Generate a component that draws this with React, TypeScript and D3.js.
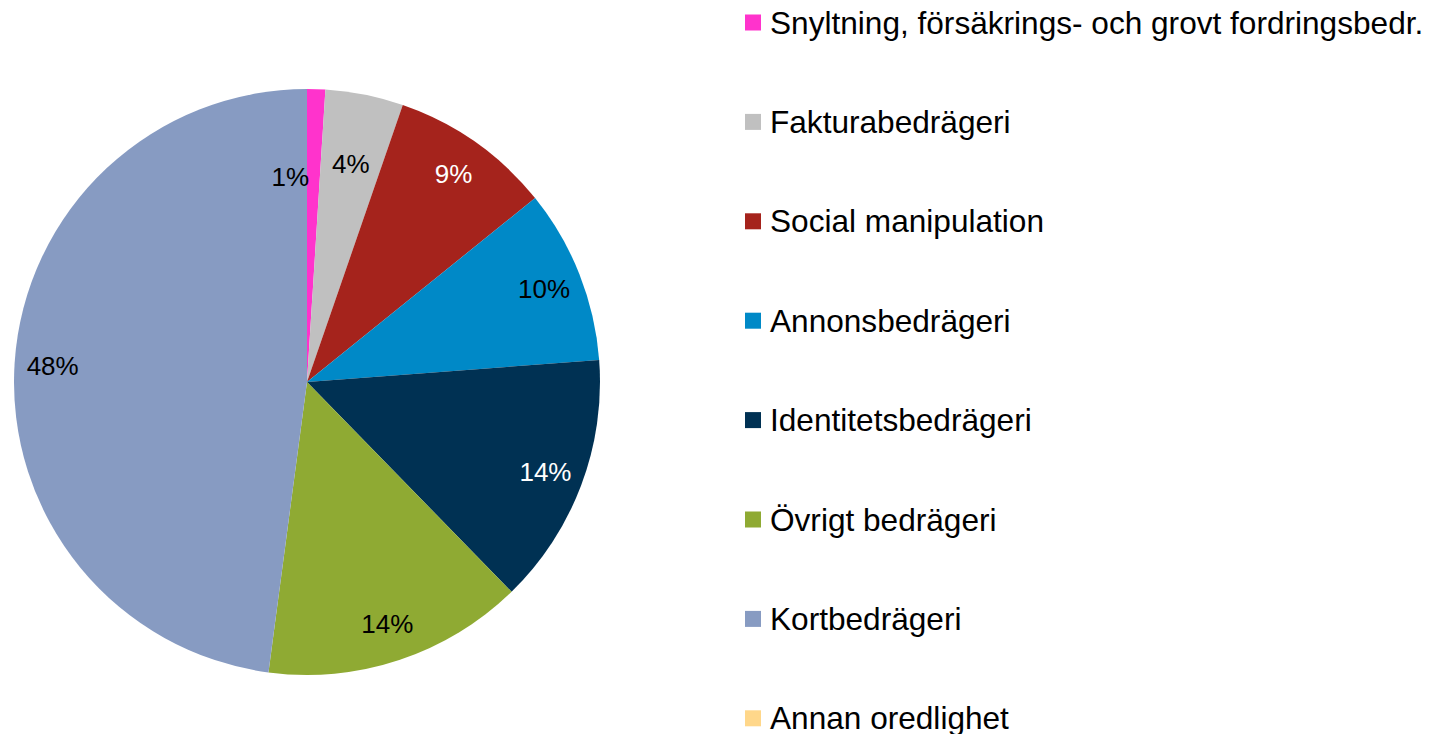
import { useMemo } from 'react';
import * as d3 from 'd3';

// Data (share in %)
const categories = [
  'Snyltning, försäkrings- och grovt fordringsbedr.',
  'Fakturabedrägeri',
  'Social manipulation',
  'Annonsbedrägeri',
  'Identitetsbedrägeri',
  'Övrigt bedrägeri',
  'Kortbedrägeri',
  'Annan oredlighet',
];
const shares = [1.0, 4.3, 8.9, 9.6, 13.9, 14.4, 47.9, 0];
const colors = ['#ff33cc', '#c0c0c0', '#a5231c', '#0089c7', '#003153', '#8faa33', '#879bc2', '#ffd78a'];
const labelColors = ['#000', '#000', '#fff', '#000', '#fff', '#000', '#000', '#000'];

type Slice = { name: string; value: number; color: string; labelColor: string };

export default function App() {
  const W = 1437;
  const H = 734;
  const cx = 307;
  const cy = 382;
  const R = 293;

  const data: Slice[] = useMemo(
    () =>
      categories.map((name, i) => ({
        name,
        value: shares[i],
        color: colors[i],
        labelColor: labelColors[i],
      })),
    []
  );

  const total = d3.sum(data, d => d.value);
  const pie = d3.pie<Slice>().value(d => d.value).sort(null);
  const arcs = pie(data);
  const arcGen = d3.arc<d3.PieArcDatum<Slice>>().innerRadius(0).outerRadius(R);

  // legend rows
  const ly = d3.scalePoint<string>().domain(categories).range([22.5, 718.3]);

  const fontFamily = 'Arial, "Liberation Sans", sans-serif';

  return (
    <svg
      width={W}
      height={H}
      viewBox={`0 0 ${W} ${H}`}
      style={{ position: 'absolute', left: 0, top: 0, background: '#fff' }}
    >
      <g transform={`translate(${cx},${cy})`}>
        {arcs
          .filter(a => a.value > 0)
          .map(a => (
            <path key={a.data.name} d={arcGen(a) ?? ''} fill={a.data.color} />
          ))}
        {arcs
          .filter(a => a.value > 0)
          .map(a => {
            const pct = (a.value / total) * 100;
            const mid = (a.startAngle + a.endAngle) / 2;
            // small slices get their labels pulled in, the tiniest one sits beside it
            const lr = pct < 2 ? R * 0.7 : pct < 6 ? R * 0.76 : R * 0.87;
            let x = Math.sin(mid) * lr;
            const y = -Math.cos(mid) * lr;
            let anchor: 'middle' | 'end' = 'middle';
            if (pct < 2) {
              x = Math.sin(a.startAngle) * lr + 2;
              anchor = 'end';
            }
            return (
              <text
                key={a.data.name}
                x={x}
                y={y}
                dy="0.36em"
                textAnchor={anchor}
                fill={a.data.labelColor}
                style={{ fontFamily, fontSize: 26 }}
              >
                {`${Math.round(pct)}%`}
              </text>
            );
          })}
      </g>

      <g>
        {data.map(d => (
          <g key={d.name} transform={`translate(745,${ly(d.name)})`}>
            <rect x={0} y={-8} width={16} height={16} fill={d.color} />
            <text x={25} y={0} dy="0.35em" fill="#000" style={{ fontFamily, fontSize: 31.6 }}>
              {d.name}
            </text>
          </g>
        ))}
      </g>
    </svg>
  );
}
